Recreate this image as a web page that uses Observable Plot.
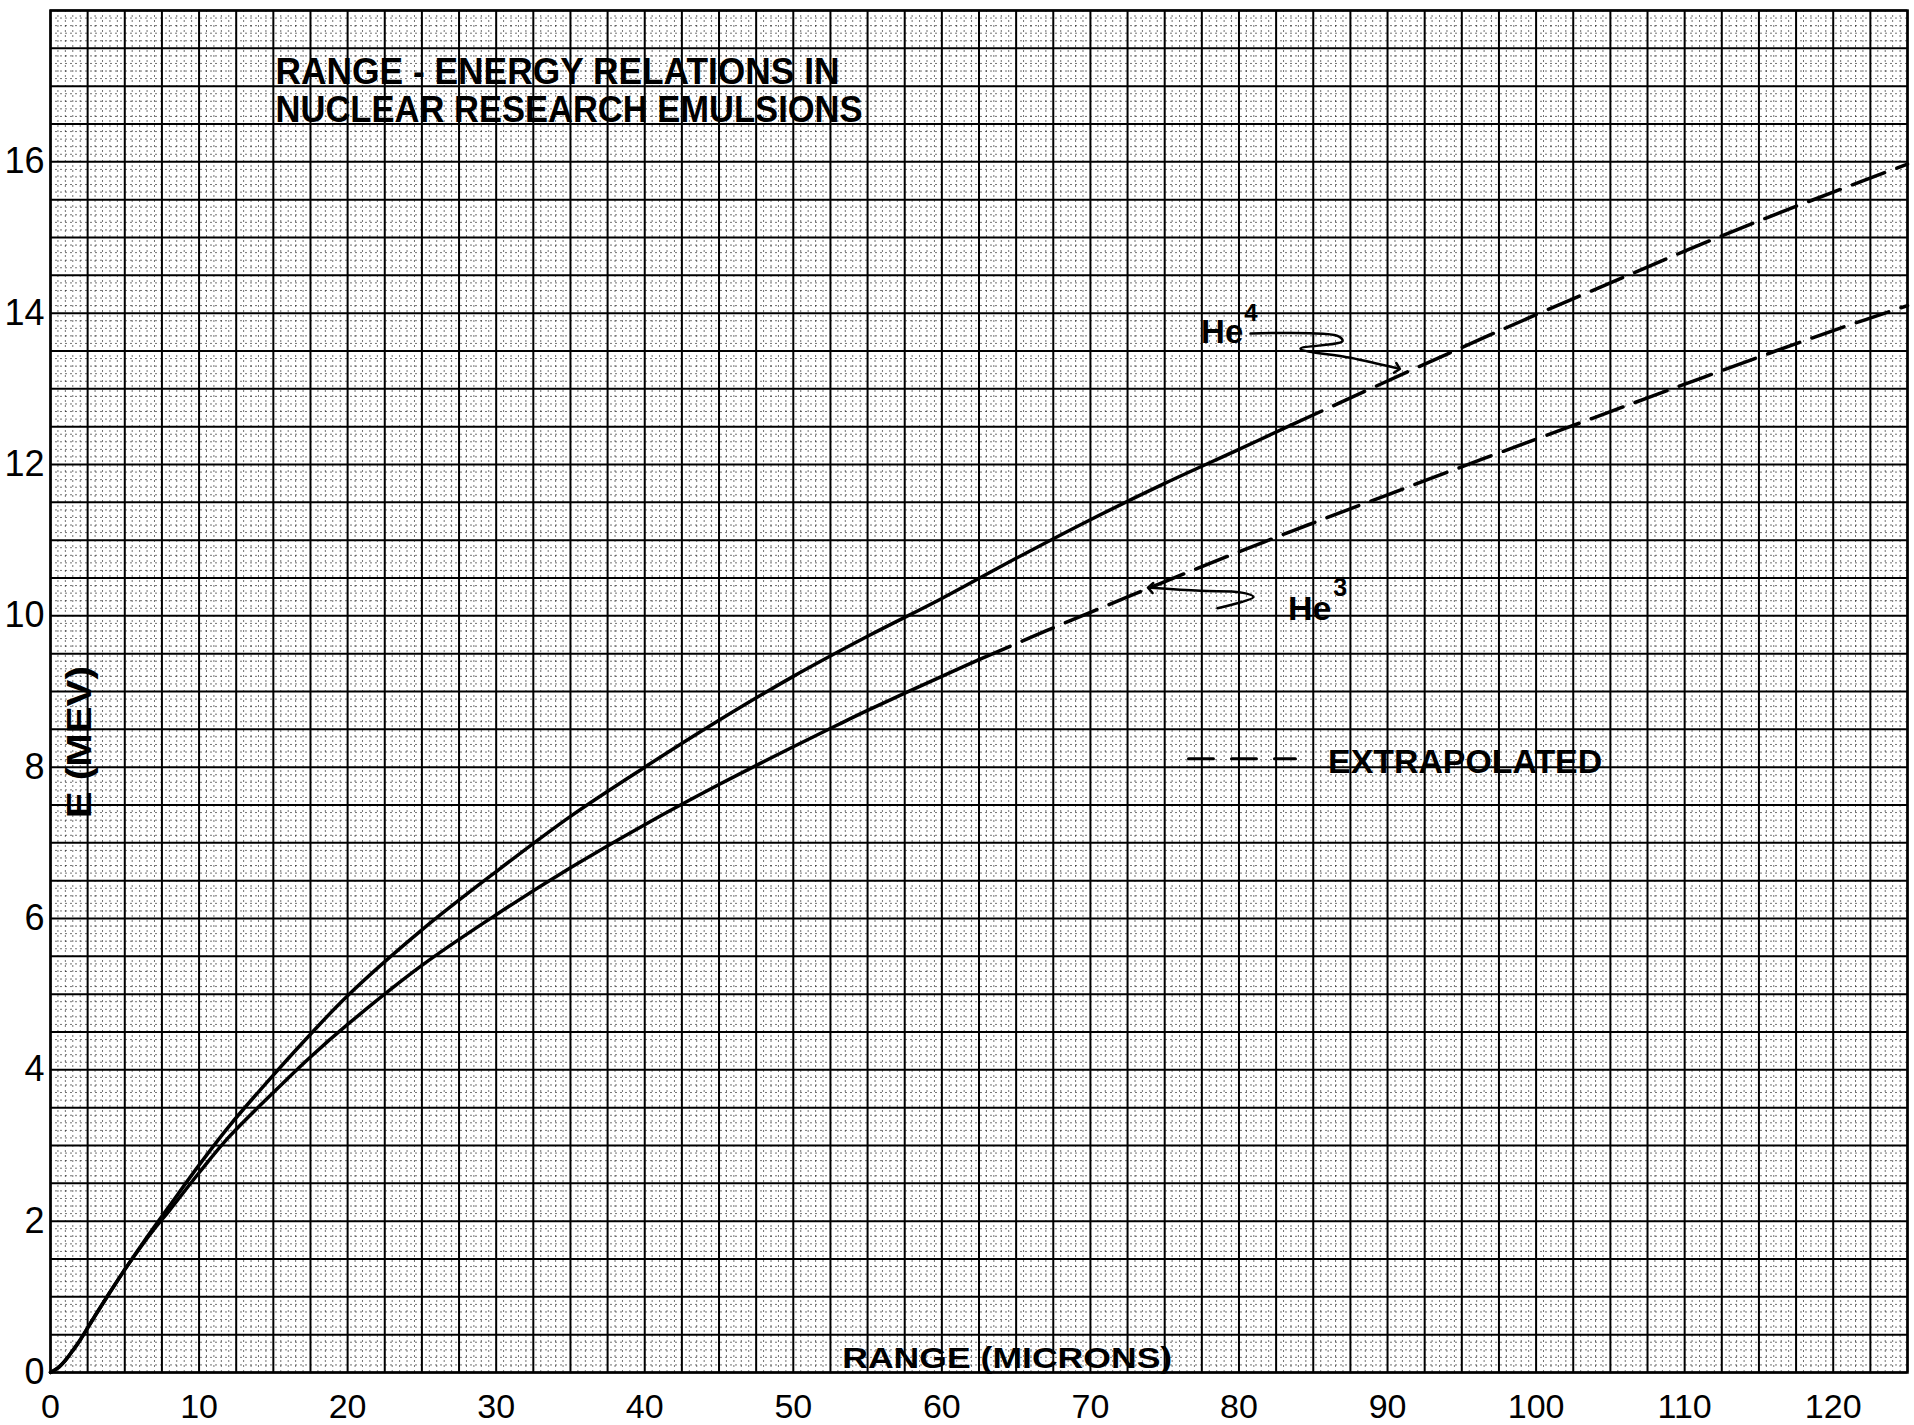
<!DOCTYPE html>
<html>
<head>
<meta charset="utf-8">
<script src="https://cdn.jsdelivr.net/npm/d3@7"></script>
<script src="https://cdn.jsdelivr.net/npm/@observablehq/plot@0.6"></script>
<style>
  html, body { margin: 0; padding: 0; background: #fff; }
  #chart svg { display: block; }
</style>
</head>
<body>
<div id="chart"></div>
<script>
// ---------- data ----------
const xTicks = [0, 10, 20, 30, 40, 50, 60, 70, 80, 90, 100, 110, 120];
const yTicks = [0, 2, 4, 6, 8, 10, 12, 14, 16];

// He4 measured (solid)
const he4Range  = [0, 0.5, 1, 1.5, 2, 3, 4, 5, 6, 7, 8, 10, 12, 15, 17.5, 20, 25, 30, 35, 40, 45, 50, 55, 60, 65, 70, 75, 80, 83.5];
const he4Energy = [0, 0.06, 0.16, 0.29, 0.43, 0.75, 1.06, 1.36, 1.65, 1.93, 2.2, 2.74, 3.25, 3.93, 4.47, 4.98, 5.85, 6.62, 7.35, 8.0, 8.62, 9.2, 9.73, 10.23, 10.76, 11.27, 11.75, 12.2, 12.52];
// He4 extrapolated (dashed)
const he4ExtRange  = [83.5, 92.2, 100, 105, 110, 115, 120, 125];
const he4ExtEnergy = [12.52, 13.3, 13.98, 14.4, 14.82, 15.22, 15.6, 15.97];

// He3 measured (solid)
const he3Range  = [0, 0.5, 1, 1.5, 2, 3, 4, 5, 6, 7, 8, 10, 12, 15, 17.5, 20, 25, 30, 35, 40, 45, 50, 53, 55, 60, 62.5];
const he3Energy = [0, 0.06, 0.16, 0.29, 0.43, 0.75, 1.06, 1.36, 1.64, 1.9, 2.14, 2.64, 3.11, 3.7, 4.17, 4.6, 5.38, 6.05, 6.67, 7.24, 7.77, 8.27, 8.56, 8.75, 9.2, 9.42];
// He3 extrapolated (dashed)
const he3ExtRange  = [62.5, 67, 72.5, 77.5, 83.7, 90, 96.5, 102, 107.5, 115.7, 120, 125];
const he3ExtEnergy = [9.42, 9.8, 10.25, 10.65, 11.13, 11.6, 12.08, 12.48, 12.88, 13.47, 13.77, 14.1];

const titleLines = ["RANGE - ENERGY RELATIONS IN", "NUCLEAR RESEARCH EMULSIONS"];
const xLabel = "RANGE (MICRONS)";
const yLabel = "E (MEV)";
const legendLabel = "EXTRAPOLATED";

// annotation pointer strokes (data coordinates)
const he4PointerX = [80.78, 86.63, 86.97, 84.14, 87.51, 90.67];
const he4PointerY = [13.73, 13.70, 13.63, 13.53, 13.41, 13.27];
const he3PointerX = [78.55, 80.98, 80.1, 77.4, 74.04];
const he3PointerY = [10.10, 10.25, 10.31, 10.33, 10.37];
const legendDashX = [76.6, 83.8];
const legendDashY = [8.11, 8.11];

// ---------- build tables ----------
const pts = (xs, ys) => xs.map((x, i) => ({x, y: ys[i]}));
const he4 = pts(he4Range, he4Energy);
const he4Ext = pts(he4ExtRange, he4ExtEnergy);
const he3 = pts(he3Range, he3Energy);
const he3Ext = pts(he3ExtRange, he3ExtEnergy);
const he4Ptr = pts(he4PointerX, he4PointerY);
const he3Ptr = pts(he3PointerX, he3PointerY);
const legDash = pts(legendDashX, legendDashY);

// graph-paper grid
const majorX = d3.range(0, 125.001, 2.5);
const majorY = d3.range(0, 18.001, 0.5);
const minorX = d3.range(0, 125.001, 0.5).filter(v => Math.abs(v / 2.5 - Math.round(v / 2.5)) > 1e-6);
const minorY = d3.range(0, 18.001, 0.1).filter(v => Math.abs(v / 0.5 - Math.round(v / 0.5)) > 1e-6);

const font = "'Liberation Sans', Arial, sans-serif";
const dash = "34,13";

const chart = Plot.plot({
  width: 1914,
  height: 1425,
  marginLeft: 50,
  marginRight: 7,
  marginTop: 10,
  marginBottom: 53,
  style: {fontFamily: font, color: "#000", background: "#fff"},
  x: {domain: [0, 125]},
  y: {domain: [0, 18]},
  marks: [
    // fine dotted rulings
    Plot.ruleX(minorX, {stroke: "#000", strokeOpacity: 0.55, strokeWidth: 1, strokeDasharray: "2,3"}),
    Plot.ruleY(minorY, {stroke: "#000", strokeOpacity: 0.55, strokeWidth: 1, strokeDasharray: "2,3"}),
    // main rulings
    Plot.ruleX(majorX, {stroke: "#000", strokeWidth: 2}),
    Plot.ruleY(majorY, {stroke: "#000", strokeWidth: 2}),
    Plot.frame({stroke: "#000", strokeWidth: 2.5}),
    Plot.axisX({ticks: xTicks, tickSize: 0, tickPadding: 21, fontSize: 34, label: null}),
    Plot.axisY({ticks: yTicks, tickSize: 0, tickPadding: 6, fontSize: 36, label: null}),
    // curves
    Plot.line(he4, {x: "x", y: "y", stroke: "#000", strokeWidth: 3.5, curve: "catmull-rom"}),
    Plot.line(he4Ext, {x: "x", y: "y", stroke: "#000", strokeWidth: 3.5, curve: "catmull-rom", strokeDasharray: dash}),
    Plot.line(he3, {x: "x", y: "y", stroke: "#000", strokeWidth: 3.5, curve: "catmull-rom"}),
    Plot.line(he3Ext, {x: "x", y: "y", stroke: "#000", strokeWidth: 3.5, curve: "catmull-rom", strokeDasharray: dash}),
    // pointers
    Plot.line(he4Ptr, {x: "x", y: "y", stroke: "#000", strokeWidth: 2.5, curve: "catmull-rom", markerEnd: "arrow"}),
    Plot.line(he3Ptr, {x: "x", y: "y", stroke: "#000", strokeWidth: 2.5, curve: "catmull-rom", markerEnd: "arrow"}),
    // legend dash sample
    Plot.line(legDash, {x: "x", y: "y", stroke: "#000", strokeWidth: 3, strokeDasharray: "25,18"}),
    // texts
    Plot.text([titleLines[0]], {x: 15.15, y: 17.03, text: d => d, textAnchor: "start", lineAnchor: "bottom", fontSize: 36, fontWeight: "bold"}),
    Plot.text([titleLines[1]], {x: 15.15, y: 16.53, text: d => d, textAnchor: "start", lineAnchor: "bottom", fontSize: 36, fontWeight: "bold"}),
    Plot.text([xLabel], {x: 64.4, y: 0.06, text: d => d, textAnchor: "middle", lineAnchor: "bottom", fontSize: 30, fontWeight: "bold"}),
    Plot.text([yLabel], {x: 2.0, y: 8.33, text: d => d, rotate: -90, textAnchor: "middle", lineAnchor: "middle", fontSize: 35, fontWeight: "bold"}),
    Plot.text([legendLabel], {x: 86.0, y: 7.92, text: d => d, textAnchor: "start", lineAnchor: "bottom", fontSize: 34, fontWeight: "bold"}),
    Plot.text(["He"], {x: 77.45, y: 13.6, text: d => d, textAnchor: "start", lineAnchor: "bottom", fontSize: 33, fontWeight: "bold"}),
    Plot.text(["4"], {x: 80.35, y: 13.9, text: d => d, textAnchor: "start", lineAnchor: "bottom", fontSize: 24, fontWeight: "bold"}),
    Plot.text(["He"], {x: 83.3, y: 9.94, text: d => d, textAnchor: "start", lineAnchor: "bottom", fontSize: 34, fontWeight: "bold"}),
    Plot.text(["3"], {x: 86.35, y: 10.26, text: d => d, textAnchor: "start", lineAnchor: "bottom", fontSize: 25, fontWeight: "bold"})
  ]
});

// squeeze lettering to the widths seen in the reference
const fits = new Map([[titleLines[0], 564], [titleLines[1], 587], [legendLabel, 274], [xLabel, 330], [yLabel, 152]]);
d3.select(chart).selectAll("text").each(function() {
  const t = this.textContent;
  if (fits.has(t)) {
    this.setAttribute("textLength", fits.get(t));
    this.setAttribute("lengthAdjust", "spacingAndGlyphs");
  }
});

document.getElementById("chart").appendChild(chart);
</script>
</body>
</html>
